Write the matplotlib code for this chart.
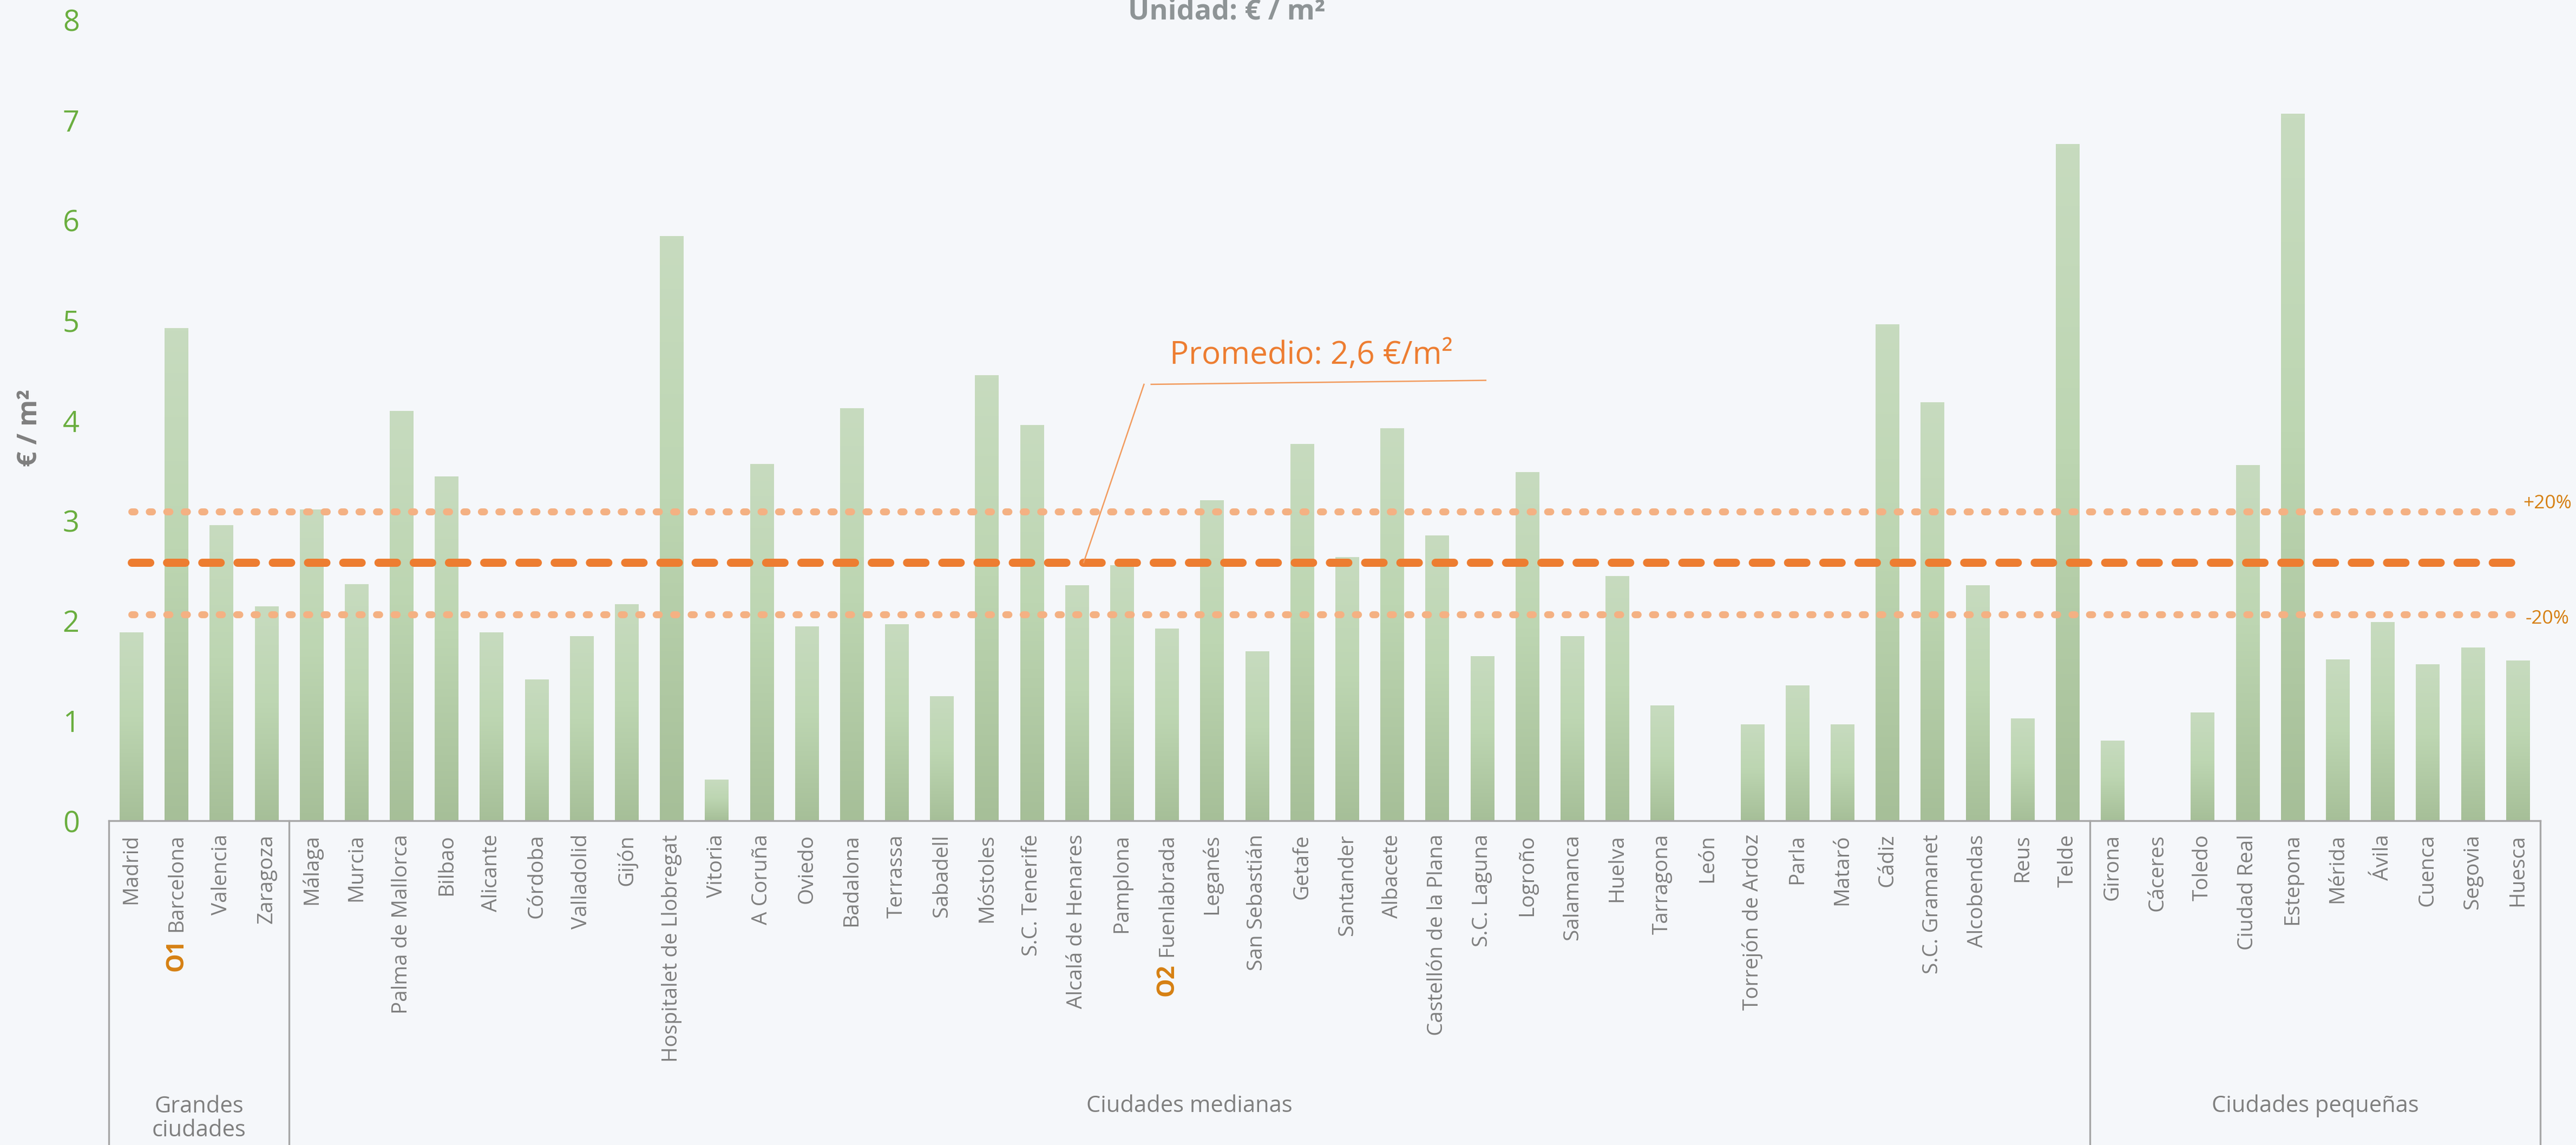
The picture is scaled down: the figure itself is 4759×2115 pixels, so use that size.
import numpy as np
import matplotlib
matplotlib.use("Agg")
import matplotlib.pyplot as plt
import matplotlib.transforms as mtransforms
from matplotlib.colors import LinearSegmentedColormap

# ---------------- data ----------------
cities_grandes = ["Madrid", "Barcelona", "Valencia", "Zaragoza"]
values_grandes = [1.88, 4.92, 2.95, 2.14]

cities_medianas = ["Málaga", "Murcia", "Palma de Mallorca", "Bilbao", "Alicante",
                   "Córdoba", "Valladolid", "Gijón", "Hospitalet de Llobregat",
                   "Vitoria", "A Coruña", "Oviedo", "Badalona", "Terrassa",
                   "Sabadell", "Móstoles", "S.C. Tenerife", "Alcalá de Henares",
                   "Pamplona", "Fuenlabrada", "Leganés", "San Sebastián", "Getafe",
                   "Santander", "Albacete", "Castellón de la Plana", "S.C. Laguna",
                   "Logroño", "Salamanca", "Huelva", "Tarragona", "León",
                   "Torrejón de Ardoz", "Parla", "Mataró", "Cádiz", "S.C. Gramanet",
                   "Alcobendas", "Reus", "Telde"]
values_medianas = [3.11, 2.36, 4.09, 3.44, 1.88,
                   1.41, 1.84, 2.16, 5.84,
                   0.41, 3.56, 1.94, 4.12, 1.96,
                   1.24, 4.45, 3.95, 2.35,
                   2.55, 1.92, 3.20, 1.69, 3.76,
                   2.63, 3.92, 2.85, 1.64,
                   3.48, 1.84, 2.44, 1.15, 0.0,
                   0.96, 1.35, 0.96, 4.96, 4.18,
                   2.35, 1.02, 6.76]

cities_pequenas = ["Girona", "Cáceres", "Toledo", "Ciudad Real", "Estepona",
                   "Mérida", "Ávila", "Cuenca", "Segovia", "Huesca"]
values_pequenas = [0.80, 0.0, 1.08, 3.55, 7.06, 1.61, 1.98, 1.56, 1.73, 1.60]

group_names = ["Grandes\nciudades", "Ciudades medianas", "Ciudades pequeñas"]
highlight = {"Barcelona": "O1", "Fuenlabrada": "O2"}

promedio = 2.58      # Promedio: 2,6 €/m²
banda_sup = 3.09     # +20%
banda_inf = 2.06     # -20%

yticks = [0, 1, 2, 3, 4, 5, 6, 7, 8]

# ---------------- style ----------------
BG = "#F5F7FA"
GREEN_TXT = "#6AAE3F"
GRAY = "#7F7F7F"
AXIS_GRAY = "#A6A6A6"
ORANGE = "#ED7D31"
ORANGE_LIGHT = "#F4B183"
ORANGE_DARK = "#D68012"
FONT = ["Open Sans", "DejaVu Sans"]
plt.rcParams["font.family"] = FONT

cities = cities_grandes + cities_medianas + cities_pequenas
values = values_grandes + values_medianas + values_pequenas
n = len(cities)
x = np.arange(n)

W, H = 4759, 2115
fig = plt.figure(figsize=(W / 300, H / 300), dpi=300)
fig.patch.set_facecolor(BG)
ax = fig.add_axes([201 / W, (H - 1516) / H, (4693 - 201) / W, (1516 - 37) / H])
ax.set_facecolor(BG)

# bars (with vertical gradient)
bar_w = 0.52
bars = ax.bar(x, values, width=bar_w, color="none", edgecolor="none", zorder=2)
cmap = LinearSegmentedColormap.from_list(
    "g", [(0.0, "#A6BF98"), (0.55, "#BDD6B2"), (1.0, "#C7DBBF")])
grad = np.linspace(0, 1, 256).reshape(-1, 1)
for b in bars:
    h = b.get_height()
    if h <= 0:
        continue
    x0 = b.get_x()
    ax.imshow(grad, cmap=cmap, origin="lower", aspect="auto",
              extent=[x0, x0 + b.get_width(), 0, h], zorder=2,
              interpolation="bilinear")

# reference lines
ax.plot(x, [banda_sup] * n, color=ORANGE_LIGHT, lw=3.1,
        linestyle=(0, (0.45, 2.05)), dash_capstyle="round", zorder=3)
ax.plot(x, [banda_inf] * n, color=ORANGE_LIGHT, lw=3.1,
        linestyle=(0, (0.45, 2.05)), dash_capstyle="round", zorder=3)
ax.plot(x, [promedio] * n, color=ORANGE, lw=3.6,
        linestyle=(0, (2.27, 2.07)), dash_capstyle="round", zorder=4)

ax.text(n - 0.34, 3.17, "+20%", color=ORANGE_DARK, fontsize=8.5,
        ha="center", va="center", clip_on=False)
ax.text(n - 0.34, 2.02, "-20%", color=ORANGE_DARK, fontsize=8.5,
        ha="center", va="center", clip_on=False)

# annotation for average
ax.plot([21.15, 22.49], [promedio, 4.36], color="#F29B5E", lw=0.6, zorder=4)
ax.plot([22.65, 30.08], [4.36, 4.40], color="#F29B5E", lw=0.6, zorder=4)
ax.text(26.2, 4.65, "Promedio: 2,6 €/m²", color=ORANGE, fontsize=14,
        ha="center", va="center")

# axes
ax.set_xlim(-0.5, n - 0.5)
ax.set_ylim(0, 8)
for s in ["top", "right", "left"]:
    ax.spines[s].set_visible(False)
ax.spines["bottom"].set_color(AXIS_GRAY)
ax.spines["bottom"].set_linewidth(0.8)

ax.set_yticks(yticks)
ax.set_yticklabels([str(t) for t in yticks], color=GREEN_TXT, fontsize=13)
ax.tick_params(axis="y", length=0, pad=13)

ax.set_xticks(x)
ax.set_xticklabels(cities, rotation=90, color=GRAY, fontsize=9.3)
ax.tick_params(axis="x", length=0, pad=6)

fig.canvas.draw()
for lbl in ax.get_xticklabels():
    t = lbl.get_text()
    if t in highlight:
        ax.annotate(highlight[t], xy=(0.5, 0), xycoords=lbl,
                    xytext=(0, -3), textcoords="offset points",
                    rotation=90, ha="center", va="top",
                    color=ORANGE_DARK, fontsize=10.5, fontweight="bold",
                    annotation_clip=False)

# group separators and names
trans = mtransforms.blended_transform_factory(ax.transData, ax.transAxes)
n1 = len(cities_grandes)
n2 = n1 + len(cities_medianas)
for xb in [-0.5, n1 - 0.5, n2 - 0.5, n - 0.5]:
    ax.plot([xb, xb], [0, -0.5], transform=trans, color=AXIS_GRAY,
            lw=0.8, clip_on=False)
centers = [(-0.5 + n1 - 0.5) / 2, (n1 - 0.5 + n2 - 0.5) / 2, (n2 - 0.5 + n - 0.5) / 2]
for c, name in zip(centers, group_names):
    yy = -0.372 if "\n" in name else -0.356
    ax.text(c, yy, name, transform=trans, ha="center", va="center",
            color=GRAY, fontsize=10, linespacing=1.05, clip_on=False)

# y label and title
fig.text(55 / W, 1 - 790 / H, "€ / m²", rotation=90, color=GRAY,
         fontsize=12, fontweight="bold", ha="center", va="center")
fig.text(2266 / W, 1 - 22 / H, "Unidad: € / m²", color="#8E9496",
         fontsize=12.5, fontweight="bold", ha="center", va="center")

fig.savefig("out.png", dpi=300, facecolor=BG)
